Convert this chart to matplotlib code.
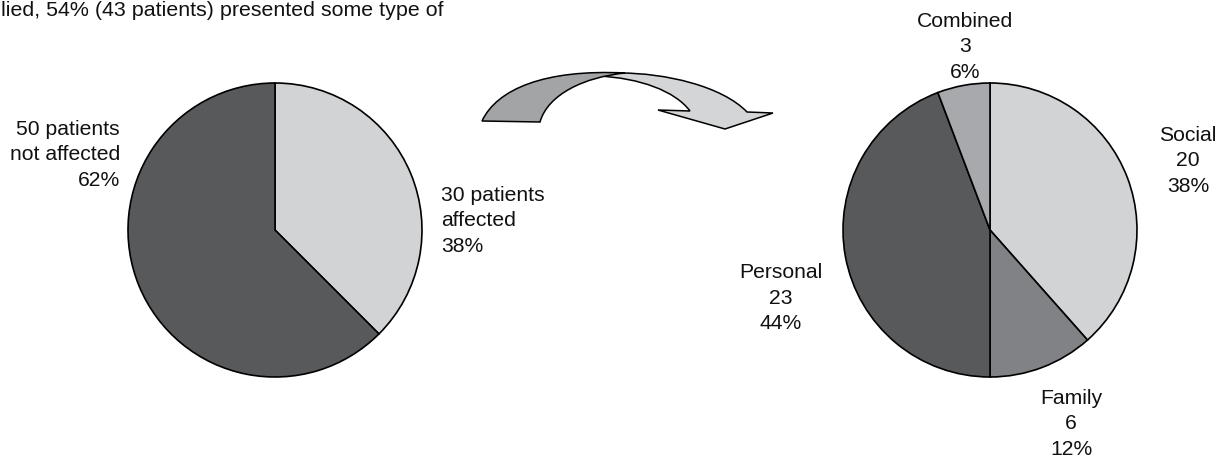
import matplotlib.pyplot as plt
from matplotlib.path import Path
from matplotlib.patches import PathPatch

plt.rcParams['font.family'] = ['Liberation Sans', 'DejaVu Sans']

# overall split of patients
overall_labels = ['30 patients\naffected', '50 patients\nnot affected']
overall_counts = [30, 50]
overall_pct = [38, 62]
overall_colors = ['#d1d3d4', '#58595b']

# breakdown of the affected group
type_labels = ['Social', 'Family', 'Personal', 'Combined']
type_counts = [20, 6, 23, 3]
type_pct = [38, 12, 44, 6]
type_colors = ['#d1d3d4', '#808285', '#58595b', '#a7a9ac']

H = 460


def py(y):
    # image pixel row -> data y
    return H - y


fig = plt.figure(figsize=(12.19, 4.6), dpi=100)
ax = fig.add_axes([0, 0, 1, 1])

wp = dict(edgecolor='black', linewidth=1.2)
ax.pie(overall_counts, colors=overall_colors, startangle=90, counterclock=False,
       center=(275, py(231)), radius=147, wedgeprops=wp, frame=True)
ax.pie(type_counts, colors=type_colors, startangle=90, counterclock=False,
       center=(990, py(231)), radius=147, wedgeprops=wp, frame=True)

fs = 15.2
ls = 1.41
txt = dict(fontsize=fs, linespacing=ls, va='center', color='#111111')

ax.text(441, py(221), f'{overall_labels[0]}\n{overall_pct[0]}%', ha='left', **txt)
ax.text(120, py(155), f'{overall_labels[1]}\n{overall_pct[1]}%', ha='right', **txt)

type_pos = [(1188, 161), (1071, 424), (781, 298), (965, 47)]
for lab, n, p, (x, y) in zip(type_labels, type_counts, type_pct, type_pos):
    ax.text(x, py(y), f'{lab}\n{n}\n{p}%', ha='center', **txt)

# caption line at the top (continues from text above the chart)
ax.text(1, py(11), 'lied, 54% (43 patients) presented some type of',
        ha='left', va='center', fontsize=15.4, color='#111111')

# twisted curved arrow between the pies
def P(x, y):
    return (x, py(y))

light = [
    (Path.MOVETO, P(620, 74)),
    (Path.CURVE4, P(665, 74)), (Path.CURVE4, P(722, 87)), (Path.CURVE4, P(747, 113)),
    (Path.LINETO, P(773, 114)),
    (Path.LINETO, P(725, 130)),
    (Path.LINETO, P(658, 111)),
    (Path.LINETO, P(690, 112)),
    (Path.CURVE4, P(675, 92)), (Path.CURVE4, P(640, 79)), (Path.CURVE4, P(598, 77)),
    (Path.CLOSEPOLY, P(620, 74)),
]
dark = [
    (Path.MOVETO, P(482, 122)),
    (Path.CURVE4, P(497, 90)), (Path.CURVE4, P(545, 70)), (Path.CURVE4, P(625, 74)),
    (Path.CURVE4, P(585, 78)), (Path.CURVE4, P(548, 95)), (Path.CURVE4, P(540, 123)),
    (Path.CLOSEPOLY, P(482, 122)),
]
for verts, fc in [(light, '#d4d5d6'), (dark, '#a3a4a6')]:
    codes, pts = zip(*verts)
    ax.add_patch(PathPatch(Path(pts, codes), facecolor=fc, edgecolor='black',
                           linewidth=1.1, joinstyle='miter'))

ax.set_xlim(0, 1219)
ax.set_ylim(0, H)
ax.set_aspect('equal')
ax.axis('off')

fig.savefig('out.png', dpi=100)
